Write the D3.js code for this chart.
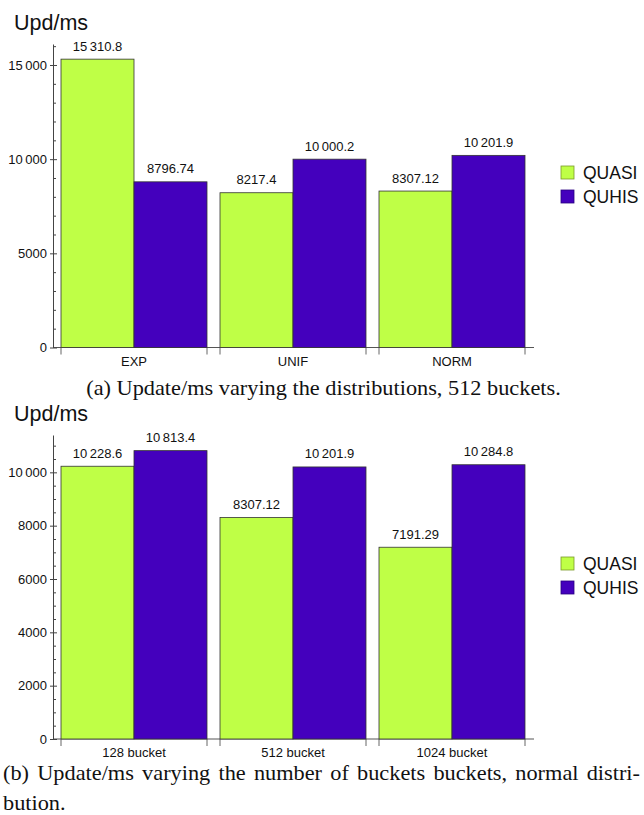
<!DOCTYPE html>
<html>
<head>
<meta charset="utf-8">
<script src="https://cdn.jsdelivr.net/npm/d3@7"></script>
<style>
  body { margin: 0; background: #fff; }
  svg { display: block; font-family: 'Liberation Sans', Arial, sans-serif; }
</style>
</head>
<body>
<div id="svg-container"></div>
<script>
/* global d3 */
'use strict'

// Data
var series = ['QUASI', 'QUHIS']
var colors = ['#bfff46', '#4400bd']

var distCategories = ['EXP', 'UNIF', 'NORM']
var distQuasi = [15310.8, 8217.4, 8307.12]
var distQuhis = [8796.74, 10000.2, 10201.9]
var distMajorTicks = [0, 5000, 10000, 15000]
var distMinorTicks = [1000, 2000, 3000, 4000, 6000, 7000, 8000, 9000, 11000, 12000, 13000, 14000, 16000]

var bucketCategories = ['128 bucket', '512 bucket', '1024 bucket']
var bucketQuasi = [10228.6, 8307.12, 7191.29]
var bucketQuhis = [10813.4, 10201.9, 10284.8]
var bucketMajorTicks = [0, 2000, 4000, 6000, 8000, 10000]
var bucketMinorTicks = [500, 1000, 1500, 2500, 3000, 3500, 4500, 5000, 5500, 6500, 7000, 7500, 8500, 9000, 9500, 10500, 11000]

var captionA = '(a) Update/ms varying the distributions, 512 buckets.'
var captionB1 = '(b) Update/ms varying the number of buckets buckets, normal distri-'
var captionB2 = 'bution.'

// Dimensions and stuff
var w = 644
var h = 815
var axisX = 53
var groupLeft = 61
var groupRight = 525
var axisRight = 534

var s = d3.select('#svg-container').append('svg')
  .attr('width', w)
  .attr('height', h)

// Mathematica style digit grouping: thin space only for 5+ integer digits
function fmt (v) {
  var str = String(v)
  var parts = str.split('.')
  if (parts[0].length > 4) {
    parts[0] = parts[0].replace(/\B(?=(\d{3})+(?!\d))/g, '\u2009')
  }
  return parts.join('.')
}

function drawChart (cfg) {
  var g = s.append('g')

  var y = d3.scaleLinear().domain([0, cfg.yMax]).range([cfg.bottom, cfg.top])
  var x0 = d3.scaleBand().domain(cfg.categories).range([groupLeft, groupRight])
    .paddingInner(13 / 159).paddingOuter(0)
  var x1 = d3.scaleBand().domain(series).range([0, x0.bandwidth()])
  var color = d3.scaleOrdinal().domain(series).range(colors)

  var rows = cfg.categories.map(function (c, i) {
    return { cat: c, values: [cfg.quasi[i], cfg.quhis[i]] }
  })

  // y axis label
  g.append('text')
    .attr('x', 14)
    .attr('y', cfg.top - 14)
    .attr('font-size', 21.5)
    .attr('fill', '#111')
    .text('Upd/ms')

  // bottom axis line
  g.append('line')
    .attr('x1', axisX).attr('x2', axisRight)
    .attr('y1', y(0)).attr('y2', y(0))
    .attr('stroke', '#555')
    .attr('stroke-width', 1)

  // group edge ticks
  var edges = []
  cfg.categories.forEach(function (c) {
    edges.push(x0(c), x0(c) + x0.bandwidth())
  })
  g.selectAll('.edge').data(edges).enter().append('line')
    .attr('class', 'edge')
    .attr('x1', function (d) { return d }).attr('x2', function (d) { return d })
    .attr('y1', y(0)).attr('y2', y(0) + 7)
    .attr('stroke', '#666')
    .attr('stroke-width', 1)

  // category labels
  var xAxis = d3.axisBottom(x0).tickSize(0).tickPadding(9)
  var xa = g.append('g')
    .attr('transform', 'translate(0,' + y(0) + ')')
    .call(xAxis)
  xa.select('.domain').remove()
  xa.selectAll('text')
    .attr('font-size', 13)
    .attr('font-family', 'Liberation Sans, Arial, sans-serif')
    .attr('fill', '#111')

  // minor ticks
  var minor = g.append('g')
    .attr('transform', 'translate(' + axisX + ',0)')
    .call(d3.axisLeft(y).tickValues(cfg.minorTicks).tickSizeInner(-3)
      .tickSizeOuter(0).tickFormat(''))
  minor.select('.domain').remove()
  minor.selectAll('line').attr('stroke', '#444')

  // major ticks + domain
  var ya = g.append('g')
    .attr('transform', 'translate(' + axisX + ',0)')
    .call(d3.axisLeft(y).tickValues(cfg.majorTicks).tickSizeInner(-4)
      .tickSizeOuter(0).tickPadding(6).tickFormat(fmt))
  ya.selectAll('.tick line').attr('x1', -3).attr('x2', 4).attr('stroke', '#444')
  ya.select('.domain').attr('stroke', '#444')
  ya.selectAll('text')
    .attr('font-size', 13)
    .attr('font-family', 'Liberation Sans, Arial, sans-serif')
    .attr('fill', '#111')

  // bars
  var grp = g.selectAll('.grp').data(rows).enter().append('g')
    .attr('class', 'grp')
    .attr('transform', function (d) { return 'translate(' + x0(d.cat) + ',0)' })

  grp.selectAll('rect').data(function (d) {
    return d.values.map(function (v, i) { return { key: series[i], value: v } })
  }).enter().append('rect')
    .attr('x', function (d) { return x1(d.key) })
    .attr('y', function (d) { return y(d.value) })
    .attr('width', x1.bandwidth())
    .attr('height', function (d) { return y(0) - y(d.value) })
    .attr('fill', function (d) { return color(d.key) })
    .attr('stroke', '#333')
    .attr('stroke-width', 0.8)

  grp.selectAll('.val').data(function (d) {
    return d.values.map(function (v, i) { return { key: series[i], value: v } })
  }).enter().append('text')
    .attr('class', 'val')
    .attr('x', function (d) { return x1(d.key) + x1.bandwidth() / 2 })
    .attr('y', function (d) { return y(d.value) - 8.5 })
    .attr('text-anchor', 'middle')
    .attr('font-size', 13)
    .attr('fill', '#111')
    .text(function (d) { return fmt(d.value) })

  // legend
  var lg = g.append('g')
    .attr('transform', 'translate(561,' + (cfg.top + 122) + ')')
  var item = lg.selectAll('g').data(series).enter().append('g')
    .attr('transform', function (d, i) { return 'translate(0,' + (i * 24) + ')' })
  item.append('rect')
    .attr('width', 13).attr('height', 13)
    .attr('fill', function (d) { return color(d) })
    .attr('stroke', function (d, i) { return i === 0 ? '#7a9a2a' : '#2a0080' })
    .attr('stroke-width', 0.8)
  item.append('text')
    .attr('x', 22)
    .attr('y', 12.5)
    .attr('font-size', 17.5)
    .attr('fill', '#111')
    .text(function (d) { return d })
}

drawChart({
  categories: distCategories,
  quasi: distQuasi,
  quhis: distQuhis,
  majorTicks: distMajorTicks,
  minorTicks: distMinorTicks,
  yMax: 16115,
  top: 44,
  bottom: 347.5
})

drawChart({
  categories: bucketCategories,
  quasi: bucketQuasi,
  quhis: bucketQuhis,
  majorTicks: bucketMajorTicks,
  minorTicks: bucketMinorTicks,
  yMax: 11400,
  top: 435,
  bottom: 739
})

// Captions (the figure's serif text is a bit stretched horizontally)
var serif = 'Liberation Serif, Times New Roman, serif'
var stretch = 1.063

function caption (str, x, y, anchor) {
  return s.append('text')
    .attr('transform', 'translate(' + x + ',' + y + ') scale(' + stretch + ',1)')
    .attr('text-anchor', anchor)
    .attr('font-family', serif)
    .attr('font-size', 21)
    .attr('fill', '#111')
    .text(str)
}

caption(captionA, 323.5, 395, 'middle')

// justified first line of caption (b)
var lineB = caption(captionB1, 3, 780, 'start')
var spaces = captionB1.split(' ').length - 1
var extra = ((640 - 3) / stretch - lineB.node().getComputedTextLength()) / spaces
lineB.attr('word-spacing', Math.max(0, extra))

caption(captionB2, 3, 810, 'start')
</script>
</body>
</html>
